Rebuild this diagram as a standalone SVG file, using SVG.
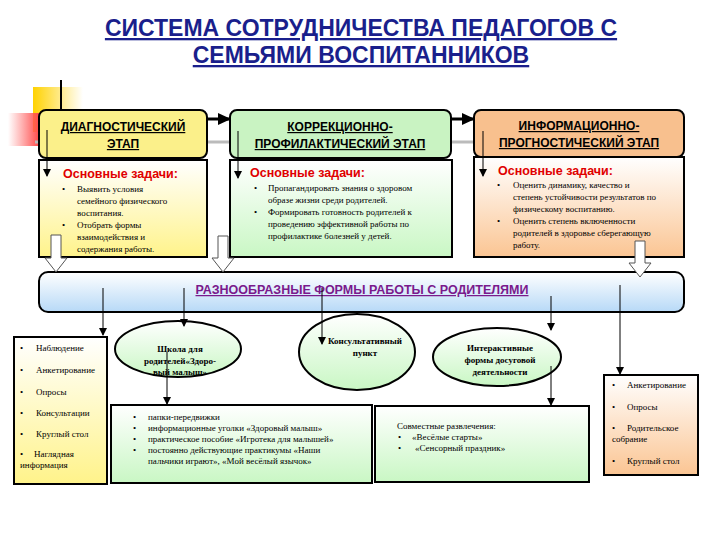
<svg xmlns="http://www.w3.org/2000/svg" width="720" height="540" viewBox="0 0 720 540">
<defs>
<linearGradient id="gy" x1="0" y1="0" x2="0" y2="1"><stop offset="0" stop-color="#ffffff"/><stop offset="1" stop-color="#fff38a"/></linearGradient>
<linearGradient id="gg" x1="0" y1="0" x2="0" y2="1"><stop offset="0" stop-color="#ffffff"/><stop offset="1" stop-color="#c9f7c4"/></linearGradient>
<linearGradient id="go" x1="0" y1="0" x2="0" y2="1"><stop offset="0" stop-color="#ffffff"/><stop offset="1" stop-color="#fbc593"/></linearGradient>
<linearGradient id="gb" x1="0" y1="0" x2="0" y2="1"><stop offset="0" stop-color="#ffffff"/><stop offset="1" stop-color="#b7d9f7"/></linearGradient>
<linearGradient id="gsq" x1="0" y1="0" x2="1" y2="0"><stop offset="0" stop-color="#ffd200"/><stop offset="1" stop-color="#ffd200" stop-opacity="0"/></linearGradient>
<linearGradient id="grd" x1="0" y1="0" x2="1" y2="0"><stop offset="0" stop-color="#ff6060" stop-opacity="0"/><stop offset="0.5" stop-color="#ff5050"/><stop offset="1" stop-color="#ff5050" stop-opacity="0"/></linearGradient>
<marker id="ar" markerWidth="8" markerHeight="8" refX="7" refY="4" orient="auto" markerUnits="userSpaceOnUse"><path d="M0,0 L8,4 L0,8 z" fill="#000"/></marker>
<marker id="arb" markerWidth="14" markerHeight="14" refX="12" refY="7" orient="auto" markerUnits="userSpaceOnUse"><path d="M0,1 L13,7 L0,13 z" fill="#000"/></marker>
</defs>
<style>
.t{font-family:"Liberation Sans",Arial,sans-serif}
.s{font-family:"Liberation Serif","Times New Roman",serif;font-size:9px;fill:#000}
.h{font-family:"Liberation Sans",Arial,sans-serif;font-weight:bold;font-size:12px;text-decoration:underline;fill:#000}
.red{font-family:"Liberation Sans",Arial,sans-serif;font-weight:bold;font-size:12.5px;fill:#e00000}
.bx{stroke:#000;stroke-width:2}
.c{stroke:#000;stroke-width:1;fill:none}
</style>
<text class="t" x="361" y="36" text-anchor="middle" font-size="23" font-weight="bold" fill="#1a1f8c" text-decoration="underline">СИСТЕМА СОТРУДНИЧЕСТВА ПЕДАГОГОВ С</text>
<text class="t" x="361" y="63" text-anchor="middle" font-size="23" font-weight="bold" fill="#1a1f8c" text-decoration="underline">СЕМЬЯМИ ВОСПИТАННИКОВ</text>
<rect x="33" y="87" width="50" height="45" fill="url(#gsq)"/>
<rect x="8" y="113" width="60" height="33" fill="url(#grd)"/>
<line x1="61" y1="80" x2="61" y2="130" stroke="#000" stroke-width="2"/>
<line x1="35" y1="142" x2="680" y2="142" stroke="#bbb" stroke-width="3"/>
<g id="stage1"><rect class="bx" x="39" y="110" width="168" height="48" rx="7" fill="#fbf08a"/><text class="h" x="123" y="131" text-anchor="middle">ДИАГНОСТИЧЕСКИЙ</text><text class="h" x="123" y="148" text-anchor="middle">ЭТАП</text></g>
<g id="stage2"><rect class="bx" x="230" y="110" width="221" height="48" rx="7" fill="#c9f3c2"/><text class="h" x="340" y="131" text-anchor="middle">КОРРЕКЦИОННО-</text><text class="h" x="340" y="148" text-anchor="middle">ПРОФИЛАКТИЧЕСКИЙ ЭТАП</text></g>
<g id="stage3"><rect class="bx" x="474" y="110" width="210" height="47" rx="7" fill="#f8c08e"/><text class="h" x="579" y="130" text-anchor="middle">ИНФОРМАЦИОННО-</text><text class="h" x="579" y="147" text-anchor="middle">ПРОГНОСТИЧЕСКИЙ ЭТАП</text></g>
<g id="tasks1"><rect class="bx" x="39" y="160" width="168" height="97" fill="url(#gy)"/><text class="red" x="63" y="178">Основные задачи:</text>
<g class="s"><text x="62" y="192">•</text><text x="77" y="192">Выявить условия</text><text x="77" y="204">семейного физического</text><text x="77" y="216">воспитания.</text><text x="62" y="228">•</text><text x="77" y="228">Отобрать формы</text><text x="77" y="240">взаимодействия и</text><text x="77" y="252">содержания работы.</text></g></g>
<g id="tasks2"><rect class="bx" x="230" y="160" width="222" height="97" fill="url(#gg)"/><text class="red" x="250" y="177">Основные задачи:</text>
<g class="s"><text x="254" y="191">•</text><text x="268" y="191">Пропагандировать знания о здоровом</text><text x="268" y="203">образе жизни среди родителей.</text><text x="254" y="215">•</text><text x="268" y="215">Формировать готовность родителей к</text><text x="268" y="227">проведению эффективной работы по</text><text x="268" y="239">профилактике болезней у детей.</text></g></g>
<g id="tasks3"><rect class="bx" x="474" y="157" width="210" height="100" fill="url(#go)"/><text class="red" x="498" y="175">Основные задачи:</text>
<g class="s"><text x="497" y="188">•</text><text x="513" y="188">Оценить динамику, качество и</text><text x="513" y="200">степень устойчивости результатов по</text><text x="513" y="212">физическому воспитанию.</text><text x="497" y="224">•</text><text x="513" y="224">Оценить степень включенности</text><text x="513" y="236">родителей в здоровье сберегающую</text><text x="513" y="248">работу.</text></g></g>
<g id="forms"><rect class="bx" x="39" y="272" width="645" height="40" rx="9" fill="url(#gb)"/><text class="t" x="362" y="294" text-anchor="middle" font-size="12.5" font-weight="bold" fill="#7a1a8c" text-decoration="underline">РАЗНООБРАЗНЫЕ ФОРМЫ РАБОТЫ С РОДИТЕЛЯМИ</text></g>
<g id="list1"><rect class="bx" x="14" y="337" width="93" height="147" fill="url(#gy)"/>
<g class="s" font-size="8.5"><text x="20" y="351">•</text><text x="36" y="351">Наблюдение</text><text x="20" y="373">•</text><text x="36" y="373">Анкетирование</text><text x="20" y="395">•</text><text x="36" y="395">Опросы</text><text x="20" y="416">•</text><text x="36" y="416">Консультации</text><text x="20" y="437">•</text><text x="36" y="437">Круглый стол</text><text x="20" y="457">•</text><text x="34" y="457">Наглядная</text><text x="20" y="468">информация</text></g></g>
<g id="school"><ellipse class="bx" cx="178" cy="349" rx="63" ry="28" fill="url(#gg)"/><g class="s" font-weight="bold" font-size="8.5" text-anchor="middle"><text x="180" y="352">Школа для</text><text x="180" y="364">родителей«Здоро-</text><text x="180" y="375">вый малыш»</text></g></g>
<g id="consult"><ellipse class="bx" cx="357" cy="352" rx="58" ry="38" fill="url(#gg)"/><g class="s" font-weight="bold" font-size="8.5" text-anchor="middle"><text x="365" y="344">Консультативный</text><text x="365" y="356">пункт</text></g></g>
<g id="interactive"><ellipse class="bx" cx="497" cy="357" rx="64" ry="29" fill="url(#gg)"/><g class="s" font-weight="bold" font-size="8.5" text-anchor="middle"><text x="500" y="351">Интерактивные</text><text x="500" y="363">формы досуговой</text><text x="500" y="375">деятельности</text></g></g>
<g id="list2"><rect class="bx" x="111" y="405" width="261" height="78" fill="url(#gg)"/>
<g class="s" font-size="8.5"><text x="133" y="420">•</text><text x="148" y="420">папки-передвижки</text><text x="133" y="431">•</text><text x="148" y="431">информационные уголки «Здоровый малыш»</text><text x="133" y="442">•</text><text x="148" y="442">практическое пособие «Игротека для малышей»</text><text x="133" y="453">•</text><text x="148" y="453">постоянно действующие практикумы «Наши</text><text x="148" y="464">пальчики играют», «Мой весёлый язычок»</text></g></g>
<g id="list3"><rect class="bx" x="375" y="406" width="214" height="76" fill="url(#gg)"/>
<g class="s" font-size="8.5"><text x="397" y="429">Совместные развлечения:</text><text x="398" y="440">•</text><text x="412" y="440">«Весёлые старты»</text><text x="398" y="451">•</text><text x="415" y="451">«Сенсорный праздник»</text></g></g>
<g id="list4"><rect class="bx" x="604" y="375" width="94" height="100" fill="url(#go)"/>
<g class="s" font-size="8.5"><text x="612" y="388">•</text><text x="627" y="388">Анкетирование</text><text x="612" y="410">•</text><text x="627" y="410">Опросы</text><text x="612" y="431">•</text><text x="627" y="431">Родительское</text><text x="612" y="442">собрание</text><text x="612" y="464">•</text><text x="627" y="464">Круглый стол</text></g></g>
<g id="connectors">
<line x1="207" y1="119" x2="230" y2="119" stroke="#000" stroke-width="3" marker-end="url(#arb)"/>
<line x1="451" y1="119" x2="474" y2="119" stroke="#000" stroke-width="3" marker-end="url(#arb)"/>
<line class="c" x1="47" y1="130" x2="47" y2="176" marker-end="url(#ar)"/>
<line class="c" x1="238" y1="131" x2="238" y2="178" marker-end="url(#ar)"/>
<line class="c" x1="483" y1="131" x2="483" y2="176" marker-end="url(#ar)"/>
<g fill="#fff" stroke="#555" stroke-width="1">
<path d="M51,235 h10 v23 h6 l-11,14 l-11,-14 h6 z"/>
<path d="M218,236 h10 v22 h6 l-11,14 l-11,-14 h6 z"/>
<path d="M635,241 h10 v22 h6 l-11,14 l-11,-14 h6 z"/>
</g>
<line class="c" x1="103" y1="288" x2="103" y2="335" marker-end="url(#ar)"/>
<line class="c" x1="184" y1="288" x2="184" y2="326" marker-end="url(#ar)"/>
<line class="c" x1="322" y1="288" x2="322" y2="344" marker-end="url(#ar)"/>
<line class="c" x1="551" y1="296" x2="551" y2="330" marker-end="url(#ar)"/>
<line class="c" x1="620" y1="285" x2="620" y2="374" marker-end="url(#ar)"/>
<line class="c" x1="167" y1="352" x2="167" y2="404" marker-end="url(#ar)"/>
<line class="c" x1="551" y1="366" x2="551" y2="405" marker-end="url(#ar)"/>
</g>
</svg>
